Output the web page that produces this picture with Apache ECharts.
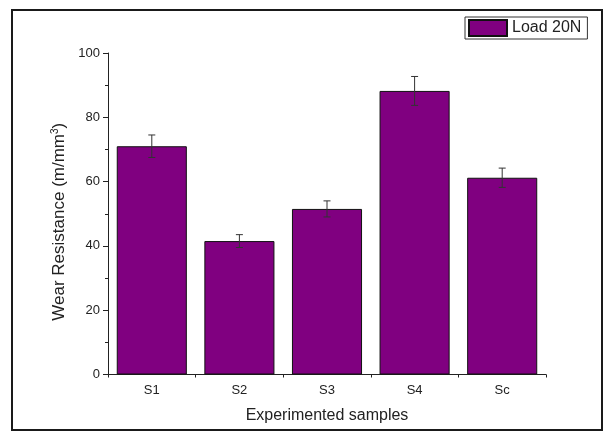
<!DOCTYPE html>
<html>
<head>
<meta charset="utf-8">
<script src="https://cdn.jsdelivr.net/npm/echarts@6/dist/echarts.min.js"></script>
<style>
  html, body { margin: 0; padding: 0; background: #fff; }
  #chart { width: 604px; height: 432px; }
</style>
</head>
<body>
<div id="chart"></div>
<script>
// Wear resistance per sample at 20 N load, with standard deviation
const samples = ['S1', 'S2', 'S3', 'S4', 'Sc'];
const wearResistance = [71.0, 41.5, 51.5, 88.2, 61.2];
const errors = [3.5, 2.0, 2.5, 4.5, 3.0];
const yTicks = [0, 20, 40, 60, 80, 100];

const font = '"Liberation Sans", Arial, sans-serif';
const ink = '#222';

const chart = echarts.init(document.getElementById('chart'), null, { renderer: 'canvas' });

const errorData = samples.map((s, i) => [i, wearResistance[i] - errors[i], wearResistance[i] + errors[i]]);

chart.setOption({
  animation: false,
  backgroundColor: '#fff',
  textStyle: { fontFamily: font },
  graphic: [{
    type: 'rect',
    shape: { x: 12, y: 10, width: 590, height: 420 },
    style: { fill: 'none', stroke: '#1a1a1a', lineWidth: 2 },
    z: 100
  }],
  legend: {
    left: 465,
    top: 17,
    icon: 'rect',
    itemWidth: 38,
    itemHeight: 16,
    padding: [2, 6, 2, 3],
    borderColor: '#333',
    borderWidth: 1,
    textStyle: { fontSize: 16, color: ink, fontFamily: font },
    data: ['Load 20N']
  },
  grid: { left: 108, right: 58, top: 53, bottom: 57.5, containLabel: false },
  xAxis: [{
    type: 'category',
    data: samples,
    position: 'bottom',
    name: 'Experimented samples',
    nameLocation: 'middle',
    nameGap: 33,
    nameTextStyle: { fontSize: 16, color: ink, fontFamily: font },
    axisLine: { lineStyle: { color: ink, width: 1 } },
    axisTick: { alignWithLabel: true, length: 5, lineStyle: { color: ink } },
    axisLabel: { fontSize: 13, color: ink, margin: 9, fontFamily: font },
    splitLine: { show: false }
  }, {
    // boundary ticks between categories
    type: 'value',
    min: 0,
    max: samples.length,
    interval: 1,
    position: 'bottom',
    axisLine: { show: false },
    axisTick: { show: true, length: 3, lineStyle: { color: ink } },
    axisLabel: { show: false },
    splitLine: { show: false }
  }],
  yAxis: {
    type: 'value',
    min: yTicks[0],
    max: yTicks[yTicks.length - 1],
    interval: 20,
    name: '{n|Wear Resistance (m/mm}{s|3}{n|)}',
    nameLocation: 'middle',
    nameGap: 37,
    nameRotate: 90,
    nameTextStyle: {
      padding: [0, 16, 0, 0],
      rich: {
        n: { fontSize: 17, color: ink, fontFamily: font },
        s: { fontSize: 10, color: ink, fontFamily: font, verticalAlign: 'top', padding: [0, 0, 8, 0] }
      }
    },
    axisLine: { show: true, lineStyle: { color: ink, width: 1 } },
    axisTick: { show: true, length: 5, lineStyle: { color: ink } },
    minorTick: { show: true, splitNumber: 2, length: 3, lineStyle: { color: ink } },
    axisLabel: { fontSize: 13, color: ink, margin: 8, fontFamily: font },
    splitLine: { show: false }
  },
  series: [{
    name: 'Load 20N',
    type: 'bar',
    xAxisIndex: 0,
    data: wearResistance,
    barCategoryGap: '20%',
    itemStyle: { color: '#800080', borderColor: '#111', borderWidth: 1 }
  }, {
    type: 'custom',
    xAxisIndex: 0,
    data: errorData,
    z: 10,
    renderItem: function (params, api) {
      const x = api.value(0);
      const lo = api.coord([x, api.value(1)]);
      const hi = api.coord([x, api.value(2)]);
      const cap = 3.5;
      const st = { stroke: '#333', lineWidth: 1 };
      return {
        type: 'group',
        children: [
          { type: 'line', shape: { x1: hi[0], y1: hi[1], x2: lo[0], y2: lo[1] }, style: st },
          { type: 'line', shape: { x1: hi[0] - cap, y1: hi[1], x2: hi[0] + cap, y2: hi[1] }, style: st },
          { type: 'line', shape: { x1: lo[0] - cap, y1: lo[1], x2: lo[0] + cap, y2: lo[1] }, style: st }
        ]
      };
    }
  }]
});
</script>
</body>
</html>
